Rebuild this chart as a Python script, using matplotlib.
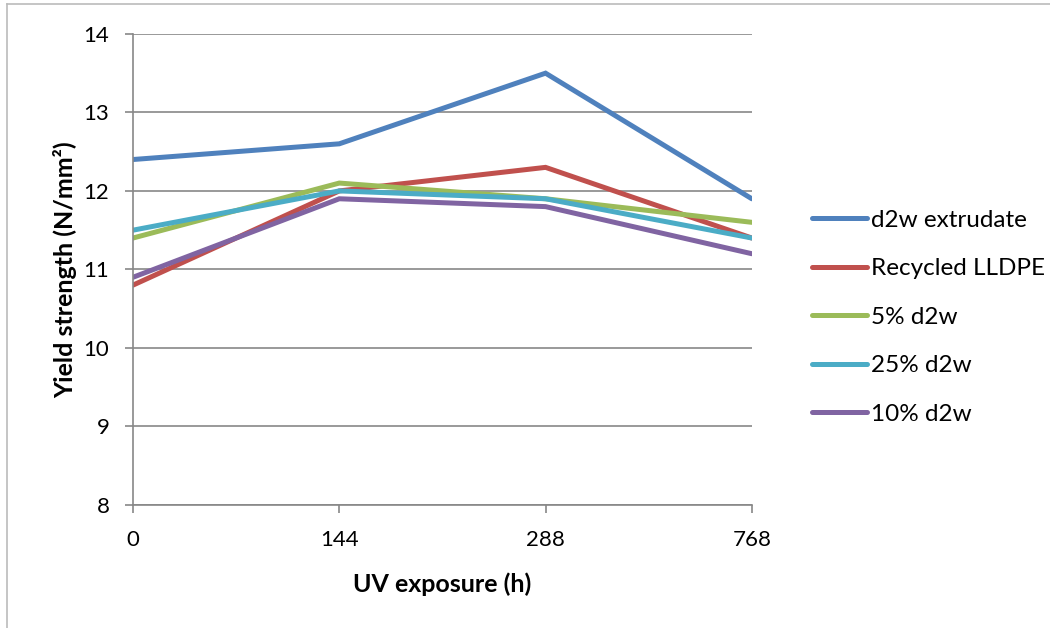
import numpy as np
import matplotlib.pyplot as plt
from matplotlib.lines import Line2D

plt.rcParams['font.family'] = ['Lato', 'DejaVu Sans']

categories = ['0', '144', '288', '768']
series_names = ['d2w extrudate', 'Recycled LLDPE', '5% d2w', '25% d2w', '10% d2w']
d2w_extrudate = [12.4, 12.6, 13.5, 11.9]
recycled_lldpe = [10.8, 12.0, 12.3, 11.4]
d2w_5 = [11.4, 12.1, 11.9, 11.6]
d2w_25 = [11.5, 12.0, 11.9, 11.4]
d2w_10 = [10.9, 11.9, 11.8, 11.2]
colors = ['#4F81BD', '#C0504D', '#9BBB59', '#4BACC6', '#8064A2']

fig = plt.figure(figsize=(10.5, 6.28), dpi=100)
ax = fig.add_axes([0.1267, 0.196, 0.5893, 0.75])

x = np.arange(len(categories))
for vals, name, c in zip([d2w_extrudate, recycled_lldpe, d2w_5, d2w_25, d2w_10], series_names, colors):
    ax.plot(x, vals, color=c, lw=3.6, label=name, solid_capstyle='round', solid_joinstyle='miter')

ax.set_xlim(0, 3)
ax.set_ylim(8, 14)
ax.set_xticks(x)
ax.set_xticklabels(categories)
ax.set_yticks(range(8, 15))
ax.grid(axis='y', color='#878787', lw=1.2)
ax.set_axisbelow(True)
for s in ['top', 'right']:
    ax.spines[s].set_visible(False)
for s in ['left', 'bottom']:
    ax.spines[s].set_color('#878787')
    ax.spines[s].set_linewidth(1.2)
ax.tick_params(axis='both', colors='#878787', length=6, width=1.2, labelsize=16, labelcolor='black')
ax.tick_params(axis='x', pad=12)
ax.tick_params(axis='y', pad=11)

ax.set_xlabel('UV exposure (h)', fontsize=18, fontweight='bold', labelpad=16)
ax.set_ylabel('Yield strength (N/mm²)', fontsize=18, fontweight='bold', labelpad=5)

ax.legend(loc='center left', bbox_to_anchor=(0.764, 0.495), bbox_transform=fig.transFigure,
          borderaxespad=0, frameon=False, fontsize=17.5,
          handlelength=2.26, handletextpad=0.16, labelspacing=1.13)

# outer chart frame
fig.add_artist(Line2D([0.0067, 0.0067], [0.0, 0.994], color='#BBBBBB', lw=1.2, transform=fig.transFigure))
fig.add_artist(Line2D([0.0067, 1.0], [0.994, 0.994], color='#BBBBBB', lw=1.2, transform=fig.transFigure))

fig.savefig('out.png', dpi=100)
